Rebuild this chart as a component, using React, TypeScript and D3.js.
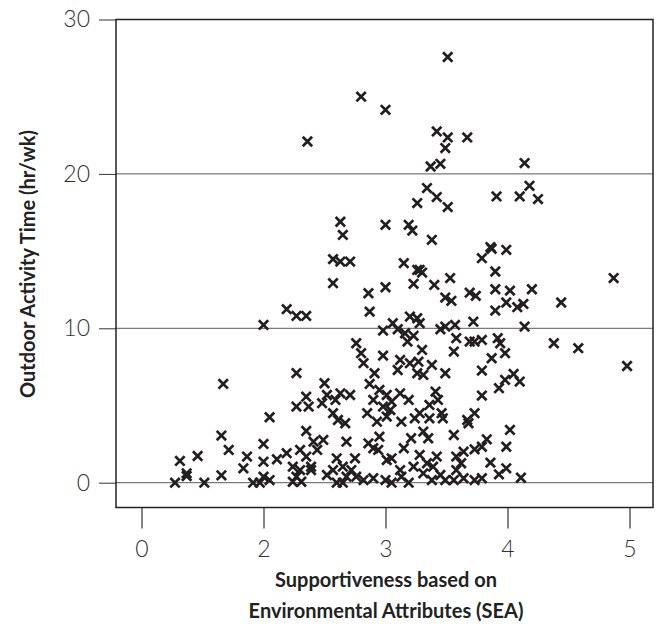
import { useEffect, useRef } from 'react';
import * as d3 from 'd3';

// [SEA score, outdoor activity hr/wk]
const points: [number, number][] = [
  // low SEA cluster
  [2.27, 7.1], [1.34, 6.4], [2.35, 5.57], [2.27, 4.93], [2.37, 4.93], [2.05, 4.24],
  [1.31, 3.05], [2.35, 3.35], [2.41, 2.66], [1.43, 2.12], [0.63, 1.41], [0.92, 1.73],
  [1.73, 1.69], [2.0, 2.51], [2.0, 1.36], [2.11, 1.52], [2.19, 1.91], [2.3, 2.12],
  [1.67, 0.93], [1.31, 0.48], [0.74, 0.61], [0.74, 0.43], [0.55, 0], [1.03, 0],
  [1.83, 0], [2.0, 0.39], [1.94, 0], [2.05, 0.17], [2.24, 1.04], [2.27, 0.39],
  [2.24, 0.06], [2.31, 0.06], [2.35, 1.69], [2.39, 1.04], [2.39, 0.82], [2.3, 0.82],
  [2.44, 2.12],
  // dense middle, bottom band
  [2.91, 7.09], [3.1, 7.3], [3.26, 7.09], [3.31, 6.98], [3.49, 7.09], [2.5, 6.44],
  [2.87, 6.4], [2.52, 5.68], [2.59, 5.36], [2.63, 5.79], [2.71, 5.68], [2.48, 5.15],
  [2.9, 5.36], [2.95, 6.01], [3.01, 5.68], [3.05, 5.25], [3.12, 5.79], [3.19, 5.36],
  [2.98, 4.93], [3.04, 4.71], [3.41, 5.9], [3.43, 5.36], [3.36, 5.04], [2.57, 4.5],
  [2.61, 4.06], [2.67, 3.85], [2.85, 4.5], [2.93, 3.95], [3.01, 4.28], [3.13, 3.95],
  [3.24, 4.17], [3.28, 4.5], [3.36, 4.17], [3.46, 4.5], [3.47, 4.17], [2.49, 2.77],
  [2.68, 2.66], [2.86, 2.55], [2.9, 2.23], [2.95, 2.98], [2.94, 2.12], [3.15, 2.23],
  [3.21, 2.88], [3.31, 3.31], [3.35, 2.88], [3.56, 3.09], [2.6, 1.58], [2.75, 1.58],
  [2.65, 1.04], [2.52, 0.5], [2.57, 0.82], [2.72, 0.82], [2.68, 0.39], [2.76, 0.39],
  [2.82, 0.17], [2.9, 0.29], [2.6, 0], [2.65, 0], [3.01, 1.47], [3.05, 1.58],
  [3.0, 0.17], [3.05, 0], [3.12, 0.82], [3.13, 0.39], [3.19, 0], [3.23, 1.04],
  [3.28, 1.8], [3.34, 1.26], [3.31, 0.61], [3.42, 1.69], [3.39, 1.04], [3.45, 0.5],
  [3.38, 0.17], [3.49, 0.17], [3.58, 0.82], [3.56, 0.17], [3.58, 1.69],
  // right part, bottom band
  [3.79, 7.26], [3.98, 6.66], [4.05, 7.04], [4.1, 6.55], [3.93, 6.12], [3.79, 5.64],
  [3.73, 4.5], [3.67, 4.06], [3.68, 3.85], [4.02, 3.42], [3.83, 2.81], [3.79, 2.33],
  [3.73, 2.16], [3.64, 2.01], [3.99, 2.33], [3.62, 1.26], [3.86, 1.3], [3.99, 0.93],
  [3.93, 0.54], [3.64, 0.29], [3.73, 0.17], [3.79, 0.29], [4.11, 0.32],
  // upper left
  [2.36, 22.1], [2.8, 25.0], [2.63, 16.9], [2.65, 16.05], [2.57, 14.48], [2.63, 14.32],
  [2.71, 14.32], [2.57, 12.92], [2.19, 11.24], [2.27, 10.8], [2.35, 10.8], [2.0, 10.22],
  [2.76, 9.03], [2.8, 8.39],
  // upper middle and right
  [3.34, 19.08], [3.42, 18.5], [3.26, 18.11], [3.51, 17.85], [3.91, 18.54], [4.1, 18.54],
  [4.18, 19.23], [4.25, 18.37], [3.0, 16.7], [3.19, 16.7], [3.22, 16.33], [3.38, 15.73],
  [3.86, 15.26], [3.87, 15.15], [3.99, 15.08], [3.79, 14.54], [3.15, 14.22], [3.26, 13.78],
  [3.28, 13.78], [3.3, 13.61], [3.23, 12.88], [3.4, 12.81], [3.53, 13.25], [3.9, 13.68],
  [4.87, 13.25], [2.86, 12.27], [3.0, 12.66], [3.49, 11.99], [3.54, 11.78], [3.69, 12.31],
  [3.74, 12.1], [3.9, 12.53], [4.02, 12.44], [4.2, 12.53], [3.99, 11.67], [3.9, 11.15],
  [4.08, 11.37], [4.13, 11.58], [4.44, 11.67], [2.87, 11.08], [3.06, 10.33], [3.2, 10.76],
  [3.26, 10.65], [3.28, 10.33], [3.45, 9.94], [3.49, 10.11], [3.57, 10.22], [3.72, 10.43],
  [4.14, 10.11], [2.98, 9.85], [3.1, 9.94], [3.16, 9.68], [3.23, 9.51], [3.18, 9.14],
  [3.58, 9.36], [3.69, 9.14], [3.73, 9.14], [3.79, 9.25], [3.92, 9.36], [3.94, 9.03],
  [4.38, 9.03], [4.58, 8.71], [2.98, 8.23], [3.3, 8.6], [3.56, 8.49], [3.98, 8.39],
  [3.87, 8.06], [3.12, 7.95], [3.2, 7.74], [3.27, 7.84], [3.38, 7.63], [2.82, 7.74],
  [4.98, 7.56],
  // top
  [3.51, 27.57], [3.0, 24.15], [3.42, 22.75], [3.51, 22.36], [3.67, 22.36], [3.49, 21.67],
  [3.37, 20.48], [3.45, 20.65], [4.14, 20.7]
];

const xTickValues = [0, 2, 3, 4, 5];
const yTickValues = [0, 10, 20, 30];
const gridValues = [0, 10, 20];
const yTitle = 'Outdoor Activity Time (hr/wk)';
const xTitleLines = ['Supportiveness based on', 'Environmental Attributes (SEA)'];

const FONT = 'Lato, "Open Sans", sans-serif';

export default function App() {
  const svgRef = useRef<SVGSVGElement>(null);

  useEffect(() => {
    if (!svgRef.current) return;
    const svg = d3.select(svgRef.current);
    svg.selectAll('*').remove();

    const box = { left: 116, right: 653, top: 19.5, bottom: 507.5 };

    // axis as printed: 0 and 2 are one tick apart, then unit steps
    const x = d3.scaleLinear().domain([0, 2, 5]).range([141.5, 263.5, 629.5]);
    const y = d3.scaleLinear().domain([0, 30]).range([482.7, 19.5]);

    // grid lines
    svg
      .append('g')
      .selectAll('line')
      .data(gridValues)
      .join('line')
      .attr('x1', box.left)
      .attr('x2', box.right)
      .attr('y1', (d) => y(d))
      .attr('y2', (d) => y(d))
      .attr('stroke', '#5a5a5a')
      .attr('stroke-width', 1);

    // y axis
    const yAxis = svg
      .append('g')
      .attr('transform', `translate(${box.left},0)`)
      .call(d3.axisLeft(y).tickValues(yTickValues).tickSize(17).tickPadding(9));
    yAxis.select('.domain').remove();
    yAxis.selectAll('.tick line').attr('stroke', '#333').attr('stroke-width', 1);
    yAxis
      .selectAll('.tick text')
      .attr('font-size', 23)
      .attr('font-family', FONT)
      .attr('font-weight', 300)
      .attr('fill', '#333');

    // x axis
    const xAxis = svg
      .append('g')
      .attr('transform', `translate(0,${box.bottom})`)
      .call(
        d3
          .axisBottom(x)
          .tickValues(xTickValues)
          .tickSize(21)
          .tickPadding(12)
          .tickFormat((d) => `${d}`)
      );
    xAxis.select('.domain').remove();
    xAxis.selectAll('.tick line').attr('stroke', '#333').attr('stroke-width', 1.2);
    xAxis
      .selectAll('.tick text')
      .attr('font-size', 23)
      .attr('font-family', FONT)
      .attr('font-weight', 300)
      .attr('fill', '#333');

    // plot frame
    svg
      .append('rect')
      .attr('x', box.left)
      .attr('y', box.top)
      .attr('width', box.right - box.left)
      .attr('height', box.bottom - box.top)
      .attr('fill', 'none')
      .attr('stroke', '#222')
      .attr('stroke-width', 1.5);

    // x markers
    const s = 4.7;
    svg
      .append('g')
      .selectAll('path')
      .data(points)
      .join('path')
      .attr('d', (d) => {
        const cx = x(d[0]);
        const cy = y(d[1]);
        return `M${cx - s},${cy - s}L${cx + s},${cy + s}M${cx - s},${cy + s}L${cx + s},${cy - s}`;
      })
      .attr('fill', 'none')
      .attr('stroke', '#231f20')
      .attr('stroke-width', 2.7);

    // titles
    svg
      .append('text')
      .attr('transform', `translate(27,264) rotate(-90)`)
      .attr('text-anchor', 'middle')
      .attr('dominant-baseline', 'central')
      .attr('font-family', FONT)
      .attr('font-weight', 700)
      .attr('font-size', 20)
      .attr('fill', '#222')
      .text(yTitle);

    svg
      .append('g')
      .selectAll('text')
      .data(xTitleLines)
      .join('text')
      .attr('x', 386)
      .attr('y', (_, i) => 587 + i * 31)
      .attr('text-anchor', 'middle')
      .attr('font-family', FONT)
      .attr('font-weight', 700)
      .attr('font-size', 20)
      .attr('fill', '#222')
      .text((d) => d);
  }, []);

  return (
    <svg
      ref={svgRef}
      width={662}
      height={637}
      style={{ position: 'absolute', left: 0, top: 0, background: '#fff' }}
    />
  );
}
